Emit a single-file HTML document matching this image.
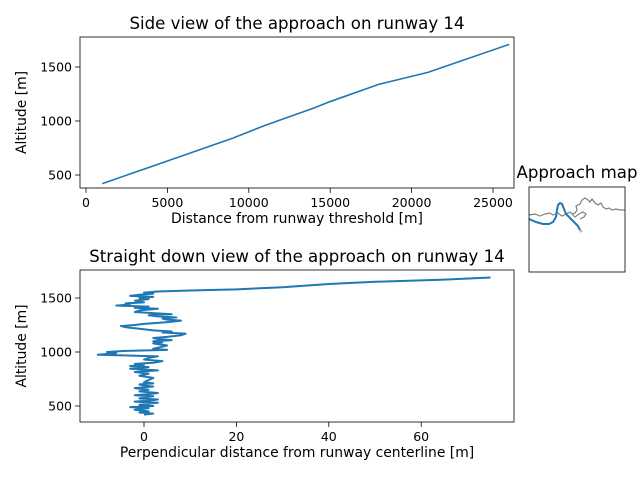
<!DOCTYPE html>
<html><head><meta charset="utf-8"><style>
body{margin:0;background:#fff;font-family:"DejaVu Sans","Liberation Sans",sans-serif}
svg text{font-family:"DejaVu Sans","Liberation Sans",sans-serif;fill:#000}
</style></head><body>
<svg id="c" width="640" height="480" xmlns="http://www.w3.org/2000/svg"></svg>
<script>
const sideDist=[1000,5000,9000,11000,14000,15000,18000,21000,26000];
const sideAlt=[420,630,840,960,1120,1180,1340,1450,1710];
const downAlt=[420,430,440,450,465,480,490,500,510,520,530,540,550,560,570,580,590,600,610,620,635,650,665,680,690,700,710,720,740,760,780,800,815,830,845,860,870,880,890,900,915,930,945,960,975,990,1000,1010,1020,1030,1040,1060,1080,1090,1100,1110,1120,1130,1140,1155,1170,1180,1190,1200,1215,1230,1240,1250,1260,1270,1280,1290,1300,1310,1320,1330,1340,1350,1360,1370,1385,1400,1410,1420,1430,1440,1450,1460,1475,1490,1500,1510,1520,1530,1540,1550,1560,1570,1580,1600,1630,1650,1670,1690,1705];
const downPerp=[0,2,-1,1,-2,1,-3,2,-1,0,3,-2,1,3,-1,0,2,-2,1,3,-1,1,-2,2,0,-1,2,0,1,2,-1,1,-2,3,-3,1,-3,0,-2,2,4,0,1,3,-10,-6,-8,-4,5,2,3,5,2,4,2,6,3,2,5,8,9,4,6,2,-1,-4,-5,-2,0,3,6,8,5,4,7,3,1,6,2,-2,-1,3,-2,1,-6,-3,-4,0,-2,1,-1,2,-3,-1,2,0,3,10,20,30,40,50,65,75];
const sideXTicks=[0,5000,10000,15000,20000,25000];
const altTicks=[500,1000,1500];
const perpTicks=[0,20,40,60];

const svg=document.getElementById('c');const NS='http://www.w3.org/2000/svg';
function el(t,a,p){const e=document.createElementNS(NS,t);for(const k in a)e.setAttribute(k,a[k]);(p||svg).appendChild(e);return e;}
function axes(x0,y0,x1,y1,xs,ys,xt,yt,xl,yl,title,nm){
  const g=el('g',{});
  
  
  for(const v of xt){const x=xs(v);el('line',{x1:x,x2:x,y1:y1,y2:y1+4.9,stroke:'#000','stroke-width':0.8},g);
    const t=el('text',{x:x,y:y1+19,'font-size':12.5,'text-anchor':'middle'},g);t.textContent=v;
    }
  for(const v of yt){const y=ys(v);el('line',{x1:x0-4.9,x2:x0,y1:y,y2:y,stroke:'#000','stroke-width':0.8},g);
    const t=el('text',{x:x0-8,y:y+4.5,'font-size':12.5,'text-anchor':'end'},g);t.textContent=v;
    }
  const a=el('text',{x:(x0+x1)/2,y:y1+35,'font-size':13.9,'text-anchor':'middle'},g);a.textContent=xl;
  
  const b=el('text',{x:0,y:0,'font-size':13.9,'text-anchor':'middle',transform:`translate(26,${(y0+y1)/2}) rotate(-90)`},g);b.textContent=yl;
  
  const c=el('text',{x:(x0+x1)/2,y:y0-8,'font-size':16.6,'text-anchor':'middle'},g);c.textContent=title;
  
  return g;
}
// top
const sx=v=>86+v*407/25000, sy=v=>175-(v-500)*0.108;
let pts=sideDist.map((d,i)=>sx(d)+','+sy(sideAlt[i])).join(' ');
const l1=el('polyline',{points:pts,fill:'none',stroke:'#1f77b4','stroke-width':1.6});

const f1=el('rect',{x:80,y:37,width:434,height:151,fill:'none',stroke:'#000','stroke-width':0.8});

axes(80,37,514,188,sx,sy,sideXTicks,altTicks,'Distance from runway threshold [m]','Altitude [m]','Side view of the approach on runway 14','side-view-axes');
// bottom
const bx=v=>144+v*4.62, by=v=>406-(v-500)*0.108;
pts=downPerp.map((p,i)=>bx(p)+','+by(downAlt[i])).join(' ');
const l2=el('polyline',{points:pts,fill:'none',stroke:'#1f77b4','stroke-width':2,'stroke-linejoin':'round'});

const f2=el('rect',{x:80,y:270,width:434,height:152,fill:'none',stroke:'#000','stroke-width':0.8});

axes(80,270,514,422,bx,by,perpTicks,altTicks,'Perpendicular distance from runway centerline [m]','Altitude [m]','Straight down view of the approach on runway 14','down-view-axes');
// map
const mg=el('g',{});

const mt=el('text',{x:577,y:178,'font-size':16.6,'text-anchor':'middle'},mg);mt.textContent='Approach map';

const coast=el('polyline',{points:'529,215 535,214 540,216 545,214 550,213 553,215 558,213 562,216 566,214 570,212 572,214 575,213 577,210 576,206 580,204 582,200 585,198 588,200 590,202 592,199 595,203 598,205 601,203 603,207 606,209 609,208 612,210 616,209 620,210 625,210',fill:'none',stroke:'#808080','stroke-width':1.2},mg);

const coast2=el('polyline',{points:'572,214 575,217 579,214 583,212 586,214 584,217 580,219',fill:'none',stroke:'#808080','stroke-width':1.2},mg);

const path=el('polyline',{points:'529,219 536,222 543,224 549,224 553,222 556,217 557,210 558,205 560,203 562,204 564,209 566,214 570,218 574,222 578,226 580,230',fill:'none',stroke:'#1f77b4','stroke-width':2},mg);

const end=el('circle',{cx:581,cy:231,r:1.5,fill:'#bbb'},mg);

const mf=el('rect',{x:529,y:187,width:96,height:85,fill:'none',stroke:'#000','stroke-width':0.8},mg);

</script>
</body></html>
